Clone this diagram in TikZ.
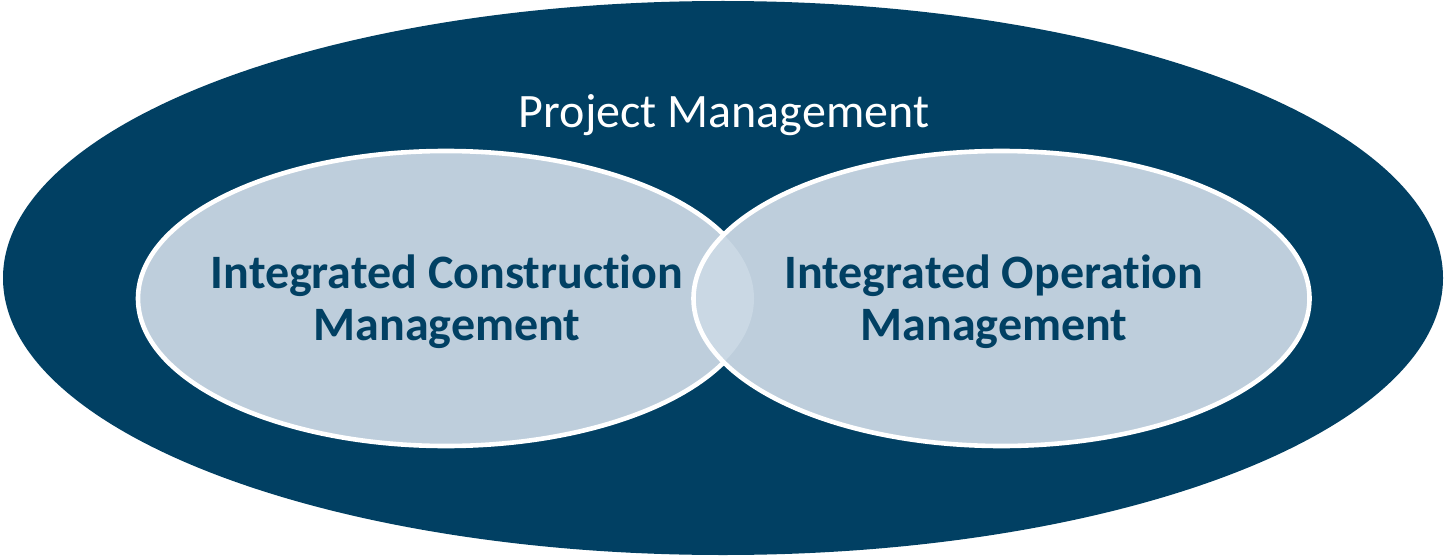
\documentclass[tikz,border=0pt]{standalone}
\usepackage{fontspec}
\setmainfont{Carlito}[Ligatures=NoCommon]
\usetikzlibrary{shapes.geometric}
\usetikzlibrary{positioning}
\definecolor{navy}{RGB}{1,64,99}
\definecolor{paleblue}{RGB}{190,206,220}
\definecolor{lightblue}{RGB}{202,216,228}
\tikzset{
  bigoval/.style={ellipse,fill=navy,inner sep=0pt,minimum width=720pt,minimum height=277pt},
  smalloval/.style={ellipse,fill=paleblue,inner sep=0pt,minimum width=308pt,minimum height=147.5pt},
  rim/.style={draw=white,line width=2.3pt},
  title/.style={text=white,font=\fontsize{24}{30}\selectfont},
  inner/.style={text=navy,align=center,font=\bfseries\fontsize{24}{26}\selectfont}
}
\begin{document}
\begin{tikzpicture}[x=0.5pt,y=-0.5pt]
\useasboundingbox (0,0) rectangle (1445,556);
\node (pm) [bigoval] at (723,278) {};
\node (lcirc) [smalloval,rim] at (446,298.5) {};
\node (rcirc) [smalloval] at (1001.5,298.5) {};
% lighter lens where the two meet
\begin{scope}
\clip (lcirc.center) ellipse [x radius=154pt,y radius=73.75pt];
\fill[lightblue] (rcirc.center) ellipse [x radius=154pt,y radius=73.75pt];
\end{scope}
\draw[rim] (rcirc.center) ellipse [x radius=154pt,y radius=73.75pt];

\node (pmtext) [title] at (724,115) {Project Management};
\node (cons) [inner] at (447,302) {Integrated Construction\\Management};
\node (oper) [inner] at (994,302) {Integrated Operation\\Management};
\end{tikzpicture}
\end{document}
